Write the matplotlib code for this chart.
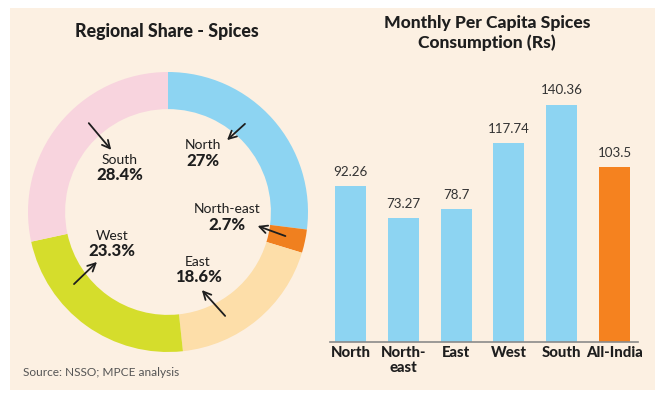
import numpy as np
import matplotlib.pyplot as plt
from matplotlib.patches import Rectangle

plt.rcParams['font.family'] = ['Lato', 'DejaVu Sans']

# ==========================================
# Data
# ==========================================
share_regions = ['North', 'North-east', 'East', 'West', 'South']
share_values = [27, 2.7, 18.6, 23.3, 28.4]
share_colors = ['#8DD4F2', '#F0801F', '#FDDEA9', '#D5DD2C', '#F8D4DE']

bar_labels = ['North', 'North-\neast', 'East', 'West', 'South', 'All-India']
bar_values = [92.26, 73.27, 78.7, 117.74, 140.36, 103.5]
bar_value_text = ['92.26', '73.27', '78.7', '117.74', '140.36', '103.5']
bar_colors = ['#8DD4F2'] * 5 + ['#F5821F']

W, H = 668, 396
cream = '#FCF0E2'
ink = '#1E1E1E'

fig = plt.figure(figsize=(W / 100, H / 100), dpi=100)
fig.patch.set_facecolor('white')
fig.patches.append(Rectangle((10 / W, 1 - 390 / H), 645 / W, 382 / H,
                             transform=fig.transFigure, facecolor=cream,
                             edgecolor='none', zorder=-10))


def fx(px):
    return px / W


def fy(py):
    return 1 - py / H


# ==========================================
# Donut
# ==========================================
cx, cy, r = 168, 212, 140
ax_pie = fig.add_axes([fx(cx - r), fy(cy + r), 2 * r / W, 2 * r / H])
ax_pie.pie(share_values, colors=share_colors, startangle=90, counterclock=False,
           radius=1.0, wedgeprops=dict(width=0.265, edgecolor='none'))
ax_pie.set_xlim(-1, 1)
ax_pie.set_ylim(-1, 1)
ax_pie.set_aspect('equal')
ax_pie.patch.set_alpha(0)

# overlay in pixel coordinates for labels and arrows
ov = fig.add_axes([0, 0, 1, 1])
ov.set_xlim(0, W)
ov.set_ylim(H, 0)
ov.axis('off')
ov.patch.set_alpha(0)

ov.text(167, 32, 'Regional Share - Spices', ha='center', va='center',
        fontsize=12.8, fontweight='black', color=ink)
ov.text(23, 372, 'Source: NSSO; MPCE analysis', ha='left', va='center',
        fontsize=8.6, color='#555555')

# label name position, arrow start, arrow end
label_pos = {
    'South': (120, 160),
    'North': (203, 145),
    'North-east': (227, 209),
    'West': (112, 236),
    'East': (198, 262),
}
arrows = {
    'South': ((87, 121), (113, 152)),
    'North': ((247, 122), (225, 142)),
    'North-east': ((288, 237), (255, 225)),
    'East': ((227, 318), (200, 288)),
    'West': ((72, 286), (99, 260)),
}
for name, val in zip(share_regions, share_values):
    x, y = label_pos[name]
    ov.text(x, y, name, ha='center', va='center', fontsize=10, color=ink)
    ov.text(x, y + 15.5, f'{val:g}%', ha='center', va='center', fontsize=12,
            fontweight='black', color=ink)
    (x0, y0), (x1, y1) = arrows[name]
    ov.annotate('', xy=(x1, y1), xytext=(x0, y0),
                arrowprops=dict(arrowstyle='->', color=ink, lw=1.3,
                                mutation_scale=14))

# ==========================================
# Bars
# ==========================================
ax_bar = fig.add_axes([fx(330), fy(342), 308 / W, 262 / H])
pos = np.arange(len(bar_values))
bars = ax_bar.bar(pos, bar_values, width=0.59, color=bar_colors, zorder=2)
for b, t in zip(bars, bar_value_text):
    ax_bar.text(b.get_x() + b.get_width() / 2, b.get_height() + 5, t,
                ha='center', va='bottom', fontsize=9.6, color='#333333')
ax_bar.set_xlim(-0.388, 5.445)
ax_bar.set_ylim(0, 262 / 1.69)
ax_bar.set_xticks(pos)
ax_bar.set_xticklabels(bar_labels, fontsize=10.7, fontweight='black', color=ink,
                       va='top', linespacing=1.05)
ax_bar.tick_params(axis='x', length=0, pad=3)
ax_bar.set_yticks([])
for s in ['top', 'right', 'left']:
    ax_bar.spines[s].set_visible(False)
ax_bar.spines['bottom'].set_color('#8A8A8A')
ax_bar.spines['bottom'].set_linewidth(1.2)
ax_bar.patch.set_alpha(0)

ov.text(487, 33, 'Monthly Per Capita Spices\nConsumption (Rs)', ha='center',
        va='center', fontsize=12.6, fontweight='black', color=ink,
        linespacing=1.3)

fig.savefig('out.png', dpi=100, facecolor='white')
